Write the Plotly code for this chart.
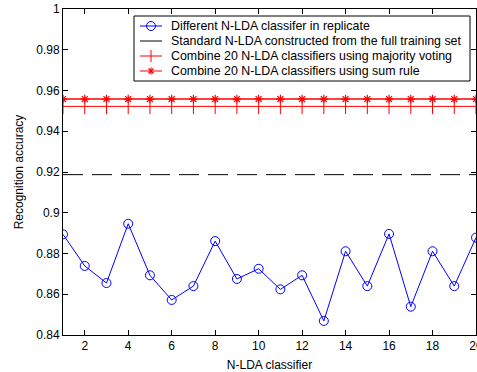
import plotly.graph_objects as go

classifier_idx = list(range(1, 21))
replicate_acc = [0.8894, 0.8739, 0.8655, 0.8946, 0.8693, 0.8572, 0.8640, 0.8861, 0.8675, 0.8725,
                 0.8624, 0.8693, 0.8469, 0.8811, 0.8640, 0.8896, 0.8539, 0.8811, 0.8640, 0.8878]
standard_acc = 0.9187
majority_acc = 0.9522
sum_rule_acc = 0.9558

series_names = [
    "Different N-LDA classifer in replicate",
    "Standard N-LDA constructed from the full training set",
    "Combine 20 N-LDA classifiers using majority voting",
    "Combine 20 N-LDA classifiers using sum rule",
]
y_tickvals = [0.84, 0.86, 0.88, 0.9, 0.92, 0.94, 0.96, 0.98, 1.0]
y_ticktext = ["0.84", "0.86", "0.88", "0.9", "0.92", "0.94", "0.96", "0.98", "1"]
x_tickvals = [2, 4, 6, 8, 10, 12, 14, 16, 18, 20]

FONT = "Liberation Sans, Arial, sans-serif"
BLUE, RED, BLACK = "#0000ff", "#ff0000", "#000000"

W, H = 477, 372
ML, MR, MT, MB = 63, 1, 9, 37
PW, PH = W - ML - MR, H - MT - MB


def px_x(px):
    return (px - ML) / PW


def px_y(py):
    return (MT + PH - py) / PH


fig = go.Figure()
fig.add_trace(go.Scatter(
    x=classifier_idx, y=replicate_acc, mode="lines+markers", name=series_names[0],
    line=dict(color=BLUE, width=1),
    marker=dict(symbol="circle-open", size=9, color=BLUE, line=dict(width=1)),
))
fig.add_trace(go.Scatter(
    x=classifier_idx, y=[standard_acc] * len(classifier_idx), mode="lines", name=series_names[1],
    line=dict(color=BLACK, width=1, dash="20px,9px"),
))
fig.add_trace(go.Scatter(
    x=classifier_idx, y=[majority_acc] * len(classifier_idx), mode="lines+markers", name=series_names[2],
    line=dict(color=RED, width=1),
    marker=dict(symbol="line-ns-open", size=11, color=RED, line=dict(width=1, color=RED)),
))
fig.add_trace(go.Scatter(
    x=classifier_idx, y=[sum_rule_acc] * len(classifier_idx), mode="lines+markers", name=series_names[3],
    line=dict(color=RED, width=1.5),
    marker=dict(symbol="asterisk-open", size=7, color=RED, line=dict(width=1.2, color=RED)),
))

# ---- legend box (drawn compactly, like the original MATLAB legend) ----
box_l, box_r, box_t, box_b = 134, 470, 16, 81
row_y = [26, 41, 56, 71]
samp_l, samp_r = 140, 162
samp_c = (samp_l + samp_r) / 2
text_x = 169
sample_colors = [BLUE, BLACK, RED, RED]

shapes = [dict(type="rect", xref="paper", yref="paper",
               x0=px_x(box_l), x1=px_x(box_r), y0=px_y(box_b), y1=px_y(box_t),
               fillcolor="white", line=dict(color=BLACK, width=1), layer="above")]
annotations = []
for i, name in enumerate(series_names):
    yy = px_y(row_y[i])
    shapes.append(dict(type="line", xref="paper", yref="paper",
                       x0=px_x(samp_l), x1=px_x(samp_r), y0=yy, y1=yy,
                       line=dict(color=sample_colors[i], width=1)))
    annotations.append(dict(text=name, xref="paper", yref="paper", x=px_x(text_x), y=yy,
                            xanchor="left", yanchor="middle", showarrow=False,
                            font=dict(family=FONT, size=12.4, color=BLACK)))
# sample markers
y0 = px_y(row_y[0])
shapes.append(dict(type="circle", xref="paper", yref="paper", xsizemode="pixel", ysizemode="pixel",
                   xanchor=px_x(samp_c), yanchor=y0, x0=-4.5, x1=4.5, y0=-4.5, y1=4.5,
                   line=dict(color=BLUE, width=1)))
y2 = px_y(row_y[2])
shapes.append(dict(type="line", xref="paper", yref="paper", ysizemode="pixel",
                   x0=px_x(samp_c), x1=px_x(samp_c), yanchor=y2, y0=-6, y1=6,
                   line=dict(color=RED, width=1)))
y3 = px_y(row_y[3])
for dx, dy in [(0, 3.5), (2.5, 2.5), (-2.5, 2.5)]:
    shapes.append(dict(type="line", xref="paper", yref="paper", xsizemode="pixel", ysizemode="pixel",
                       xanchor=px_x(samp_c), yanchor=y3, x0=-dx, x1=dx, y0=-dy, y1=dy,
                       line=dict(color=RED, width=1.2)))

fig.update_layout(
    width=W, height=H,
    margin=dict(l=ML, r=MR, t=MT, b=MB, autoexpand=False),
    paper_bgcolor="white", plot_bgcolor="white",
    font=dict(family=FONT, size=12, color=BLACK),
    showlegend=False,
    shapes=shapes,
    annotations=annotations,
    xaxis=dict(
        range=[1, 20], tickvals=x_tickvals, ticks="inside", ticklen=5, tickcolor=BLACK,
        showline=True, linecolor=BLACK, linewidth=1, mirror="ticks", showgrid=False, zeroline=False,
        automargin=False, ticklabeloverflow="allow",
        title=dict(text="N-LDA classifier", standoff=8, font=dict(size=12)),
    ),
    yaxis=dict(
        range=[0.84, 1.0], tickvals=y_tickvals, ticktext=y_ticktext, ticks="inside", ticklen=5,
        tickcolor=BLACK, automargin=False,
        showline=True, linecolor=BLACK, linewidth=1, mirror="ticks", showgrid=False, zeroline=False,
        title=dict(text="Recognition accuracy", standoff=10, font=dict(size=12)),
    ),
)

fig.write_html(
    "out.html",
    config={"displayModeBar": False},
    post_script="document.body.style.margin='0';document.body.style.overflow='hidden';",
)
